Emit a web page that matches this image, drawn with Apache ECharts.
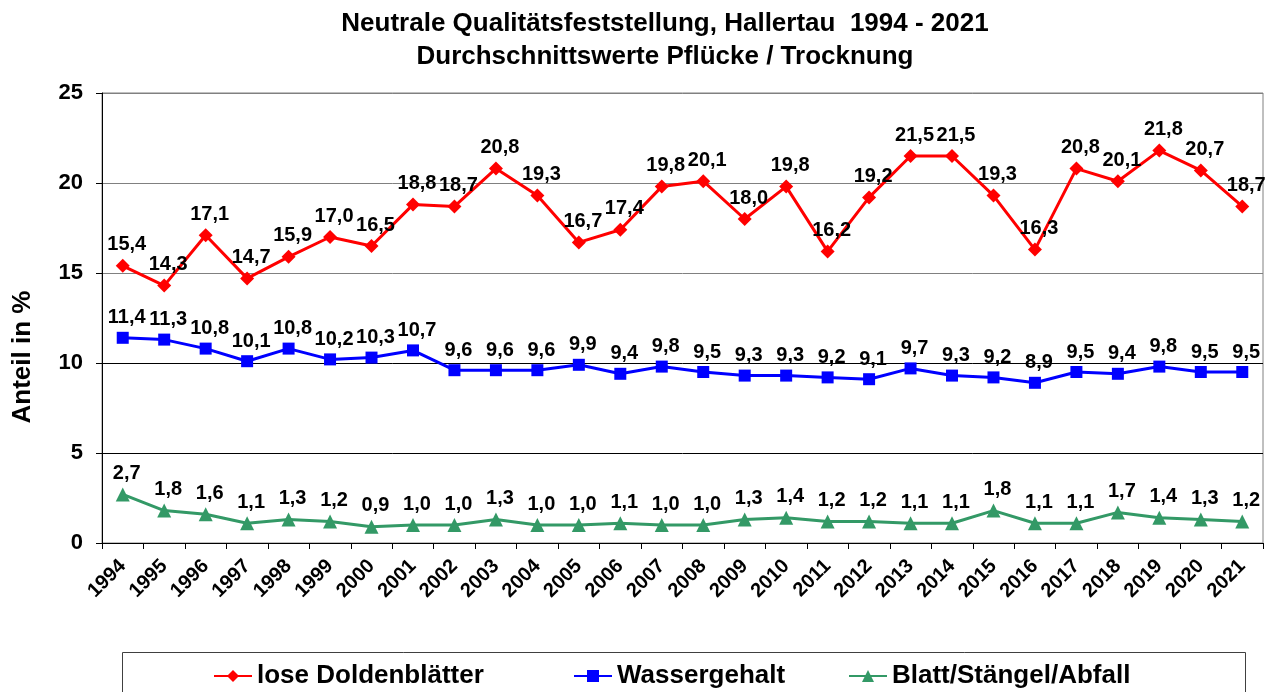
<!DOCTYPE html>
<html>
<head>
<meta charset="utf-8">
<script src="https://cdn.jsdelivr.net/npm/echarts@6/dist/echarts.min.js"></script>
<style>
  html, body { margin: 0; padding: 0; background: #fff; }
  #chart { width: 1274px; height: 692px; }
</style>
</head>
<body>
<div id="chart"></div>
<script>
// Jahre der Erhebung
const years = ['1994','1995','1996','1997','1998','1999','2000','2001','2002','2003',
  '2004','2005','2006','2007','2008','2009','2010','2011','2012','2013','2014','2015',
  '2016','2017','2018','2019','2020','2021'];

// Anteil in % je Jahr
const loseDoldenblaetter = [15.4,14.3,17.1,14.7,15.9,17.0,16.5,18.8,18.7,20.8,19.3,16.7,
  17.4,19.8,20.1,18.0,19.8,16.2,19.2,21.5,21.5,19.3,16.3,20.8,20.1,21.8,20.7,18.7];
const wassergehalt = [11.4,11.3,10.8,10.1,10.8,10.2,10.3,10.7,9.6,9.6,9.6,9.9,9.4,9.8,
  9.5,9.3,9.3,9.2,9.1,9.7,9.3,9.2,8.9,9.5,9.4,9.8,9.5,9.5];
const blattStaengelAbfall = [2.7,1.8,1.6,1.1,1.3,1.2,0.9,1.0,1.0,1.3,1.0,1.0,1.1,1.0,1.0,
  1.3,1.4,1.2,1.2,1.1,1.1,1.8,1.1,1.1,1.7,1.4,1.3,1.2];

const seriesNames = ['lose Doldenblätter', 'Wassergehalt', 'Blatt/Stängel/Abfall'];
const titleLines = ['Neutrale Qualitätsfeststellung, Hallertau  1994 - 2021',
  'Durchschnittswerte Pflücke / Trocknung'];
const yAxisTitle = 'Anteil in %';

const FONT = "'Liberation Sans', Arial, Helvetica, sans-serif";

const fmt = p => p.value.toFixed(1).replace('.', ',');

function lineSeries(name, data, color, symbol, size) {
  return {
    name, type: 'line', data,
    symbol, symbolSize: size,
    lineStyle: { color, width: 3 },
    itemStyle: { color },
    label: {
      show: true, position: 'top', distance: 4, offset: [4, 0],
      formatter: fmt, color: '#000', fontFamily: FONT, fontWeight: 'bold', fontSize: 20
    },
    emphasis: { disabled: true },
    animation: false
  };
}

function legendItem(name, left) {
  return {
    data: [name], left, top: 663, orient: 'horizontal',
    itemWidth: 38, itemHeight: 15, padding: 0,
    textStyle: { fontFamily: FONT, fontWeight: 'bold', fontSize: 26, color: '#000' }
  };
}

const chart = echarts.init(document.getElementById('chart'), null, { renderer: 'canvas' });
chart.setOption({
  backgroundColor: '#fff',
  animation: false,
  title: {
    text: titleLines.join('\n'),
    left: 665, top: 7, padding: 0, textAlign: 'center',
    textStyle: { fontFamily: FONT, fontWeight: 'bold', fontSize: 26, lineHeight: 33, color: '#000' }
  },
  grid: {
    left: 102, right: 11, top: 93, bottom: 149,
    show: true, borderColor: '#808080', borderWidth: 1, backgroundColor: 'transparent'
  },
  xAxis: {
    type: 'category', data: years, boundaryGap: true,
    axisLine: { lineStyle: { color: '#000', width: 1 } },
    axisTick: { show: true, alignWithLabel: false, length: 6, lineStyle: { color: '#000' } },
    axisLabel: {
      interval: 0, rotate: 45, margin: 20,
      fontFamily: FONT, fontWeight: 'bold', fontSize: 20, color: '#000'
    },
    splitLine: { show: false }
  },
  yAxis: {
    type: 'value', min: 0, max: 25, interval: 5,
    axisLine: { show: true, lineStyle: { color: '#000', width: 1 } },
    axisTick: { show: true, inside: false, length: 6, lineStyle: { color: '#000' } },
    axisLabel: { margin: 19, fontFamily: FONT, fontWeight: 'bold', fontSize: 22, color: '#000' },
    splitLine: {
      show: true,
      lineStyle: { color: ['#000', '#000', '#000', '#808080', '#808080', '#808080'], width: 1 }
    }
  },
  legend: [
    legendItem(seriesNames[0], 213),
    legendItem(seriesNames[1], 573),
    legendItem(seriesNames[2], 848)
  ],
  graphic: [
    {
      type: 'rect', silent: true, z: -1,
      shape: { x: 122.5, y: 652.5, width: 1123, height: 60 },
      style: { fill: '#fff', stroke: '#404040', lineWidth: 1 }
    },
    {
      type: 'text', x: 23, y: 357, rotation: Math.PI / 2, silent: true,
      style: {
        text: yAxisTitle, fontFamily: FONT, fontWeight: 'bold', fontSize: 26,
        fill: '#000', align: 'center', verticalAlign: 'middle'
      }
    }
  ],
  series: [
    lineSeries(seriesNames[0], loseDoldenblaetter, '#ff0000', 'diamond', 14),
    lineSeries(seriesNames[1], wassergehalt, '#0000ff', 'rect', 12),
    lineSeries(seriesNames[2], blattStaengelAbfall, '#339966', 'triangle', 14)
  ]
});
</script>
</body>
</html>
